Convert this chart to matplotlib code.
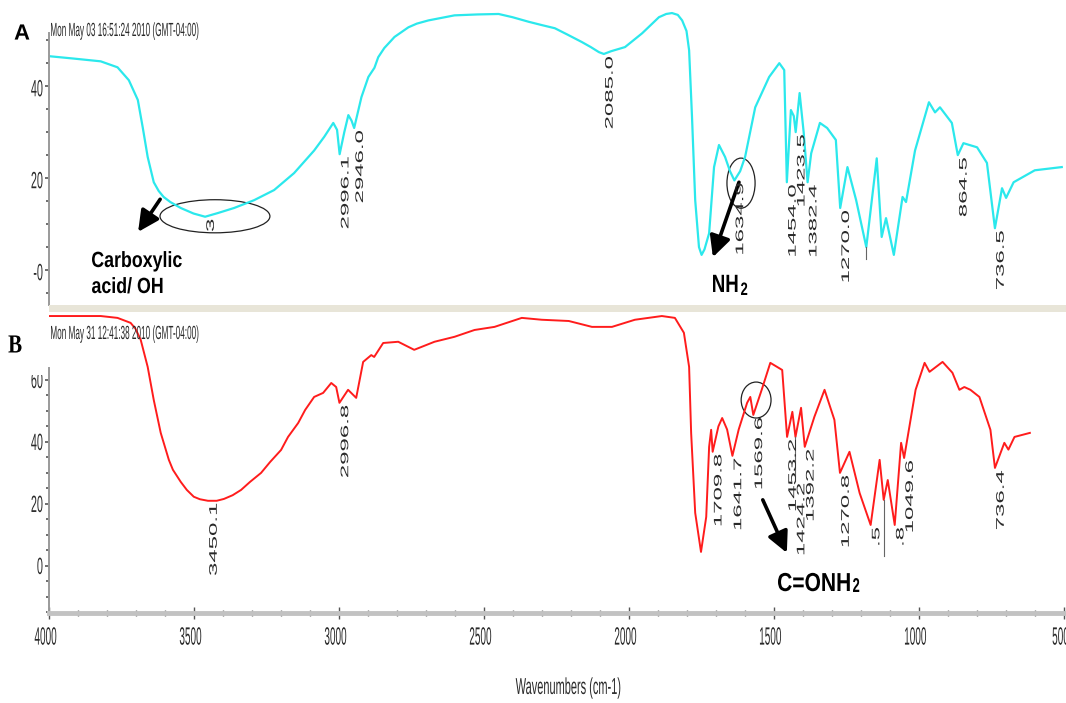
import numpy as np
import matplotlib
matplotlib.use("Agg")
import matplotlib.pyplot as plt
from matplotlib.textpath import TextPath
from matplotlib.patches import PathPatch, Ellipse, Rectangle
from matplotlib.font_manager import FontProperties
from matplotlib.transforms import Affine2D, Bbox

# --- Spectrum A (cyan): wavenumber (cm-1), %T ---
wn_a = [3995, 3913, 3820, 3762, 3723, 3692, 3675, 3658, 3637, 3620,
        3603, 3580, 3544, 3500, 3460, 3416, 3360, 3291, 3222, 3153,
        3084, 3049, 3018, 3005, 2996.1, 2980, 2966, 2955, 2946.0, 2921,
        2897, 2876, 2863, 2842, 2820, 2807, 2759, 2730, 2690, 2600,
        2520, 2448, 2400, 2344, 2300, 2254, 2210, 2161, 2130, 2102,
        2085.0, 2060, 2012, 1953, 1895, 1870, 1850, 1830, 1815, 1800,
        1791, 1781, 1770, 1757, 1748, 1738, 1722, 1705, 1688, 1667,
        1650, 1634.9, 1615, 1598, 1563, 1515, 1480, 1463, 1454.0, 1440,
        1430, 1423.5, 1410, 1396, 1382.4, 1370, 1340, 1315, 1285, 1270.0,
        1245, 1215, 1180, 1144, 1127, 1112, 1085, 1055, 1043, 1012,
        964, 943, 926, 885, 864.5, 845, 798, 764, 736.5, 712,
        698, 672, 599, 506]
t_a = [46.5, 46.0, 45.4, 44.1, 41.3, 37.0, 31.0, 24.6, 19.1, 17.2,
       15.9, 14.8, 13.5, 12.3, 11.6, 12.4, 13.5, 15.2, 17.4, 21.1,
       26.0, 29.0, 32.0, 30.5, 25.2, 30.0, 33.7, 32.5, 30.9, 37.6,
       42.0, 44.0, 46.3, 48.3, 49.8, 50.7, 52.8, 53.6, 54.3, 55.4,
       55.6, 55.7, 55.0, 54.0, 53.3, 52.6, 51.2, 49.6, 48.5, 47.4,
       47.0, 47.6, 48.5, 51.5, 55.0, 55.7, 55.9, 55.5, 54.3, 52.0,
       47.8, 33.3, 15.2, 5.0, 3.3, 4.5, 8.0, 22.4, 27.2, 24.6,
       21.5, 19.5, 21.5, 24.6, 35.4, 42.0, 45.0, 43.5, 19.1, 34.8,
       33.5, 30.0, 38.5, 30.0, 19.1, 25.4, 32.0, 30.9, 28.3, 13.5,
       22.4, 15.2, 5.0, 24.3, 7.2, 11.3, 3.3, 15.9, 14.8, 26.0,
       36.5, 34.3, 35.4, 32.0, 25.0, 27.6, 26.7, 23.3, 9.1, 17.8,
       15.7, 19.1, 21.7, 22.4]

# --- Spectrum B (red) ---
wn_b = [3995, 3820, 3762, 3717, 3700, 3682, 3658, 3637, 3613, 3585,
        3571, 3544, 3523, 3499, 3478, 3450.1, 3420, 3395, 3365, 3336,
        3305, 3267, 3236, 3198, 3174, 3139, 3115, 3084, 3053, 3025,
        3008, 2996.8, 2967, 2939, 2915, 2887, 2877, 2846, 2794, 2739,
        2669, 2600, 2531, 2462, 2368, 2299, 2206, 2126, 2057, 1978,
        1885, 1840, 1809, 1791, 1784, 1770, 1750, 1732, 1722, 1715,
        1709.8, 1690, 1677, 1660, 1641.7, 1620, 1591, 1580, 1569.6, 1540,
        1511, 1470, 1453.2, 1435, 1424.2, 1405, 1392.2, 1359, 1324, 1290,
        1270.8, 1238, 1203, 1165, 1134, 1120, 1106, 1082, 1060, 1049.6,
        1010, 979, 962, 917, 883, 859, 842, 821, 790, 752,
        736.4, 704, 690, 669, 616]
t_b = [80.6, 80.6, 80.0, 78.4, 76.5, 72.9, 64.2, 53.5, 42.9, 34.2,
       31.0, 27.1, 24.5, 22.3, 21.5, 21.0, 21.0, 21.6, 22.8, 24.5,
       27.1, 30.0, 33.5, 37.4, 41.6, 46.1, 50.3, 54.5, 55.8, 59.0,
       57.7, 52.6, 56.8, 54.2, 65.8, 68.0, 67.4, 71.9, 72.3, 69.7,
       72.3, 73.9, 76.1, 77.1, 80.0, 79.4, 79.0, 77.1, 77.1, 79.4,
       80.6, 80.0, 75.2, 64.2, 42.9, 17.1, 4.5, 15.8, 38.4, 43.9,
       36.8, 45.0, 47.7, 44.0, 35.5, 44.0, 52.6, 54.5, 48.7, 57.0,
       65.5, 63.2, 41.6, 49.7, 41.6, 51.0, 38.4, 48.1, 56.8, 47.1,
       30.0, 36.8, 23.5, 13.2, 34.2, 21.3, 27.7, 13.2, 39.7, 34.8,
       56.8, 65.5, 62.6, 65.8, 62.3, 56.8, 57.7, 56.8, 54.5, 43.9,
       31.6, 39.7, 37.5, 41.6, 42.9]

# peak labels (position, text); drop = extra leader length in px
peaks_a = [3460, 2996.1, 2946.0, 2085.0, 1634.9, 1454.0, 1423.5, 1382.4,
           1270.0, 1180, 864.5, 736.5]
peak_text_a = ["3", "2996.1", "2946.0", "2085.0", "1634.9", "1454.0",
               "1423.5", "1382.4", "1270.0", "", "864.5", "736.5"]
drop_a = {1180: 12}

peaks_b = [3450.1, 2996.8, 1709.8, 1641.7, 1569.6, 1453.2, 1424.2, 1392.2,
           1270.8, 1165, 1120, 1082, 1049.6, 736.4]
peak_text_b = ["3450.1", "2996.8", "1709.8", "1641.7", "1569.6", "1453.2",
               "1424.2", "1392.2", "1270.8", ".5", "", ".8", "1049.6", "736.4"]
drop_b = {1424.2: 44, 1120: 56}

ytick_a = [0, 20, 40]
ytick_a_lbl = ["-0", "20", "40"]
ytick_b = [0, 20, 40, 60]
ytick_b_lbl = ["0", "20", "40", "60"]
xtick = [4000, 3500, 3000, 2500, 2000, 1500, 1000, 500]
xtick_lbl = ["4000", "3500", "3000", "2500", "2000", "1500", "1000", "500"]

stamp_a = "Mon May 03 16:51:24 2010 (GMT-04:00)"
stamp_b = "Mon May 31 12:41:38 2010 (GMT-04:00)"

W, H = 1066, 703
CYAN = "#2BE8EC"
RED = "#FF1C1C"
INK = "#2a2a2a"

fig = plt.figure(figsize=(W / 100, H / 100), dpi=100)
fig.patch.set_facecolor("white")


def stretched(x, y, s, sx, sy, rot=0, ha="center", va="center",
              family="Liberation Sans", weight="normal", color=INK, clip=None):
    # text as a path, scaled separately along x and y (display pixels)
    path = TextPath((0, 0), s, size=1, prop=FontProperties(family=family, weight=weight))
    x0, y0, x1, y1 = path.get_extents().extents
    dx = {"left": -x0, "center": -(x0 + x1) / 2, "right": -x1}[ha]
    dy = {"bottom": -y0, "center": -(y0 + y1) / 2, "top": -y1, "baseline": 0}[va]
    tr = Affine2D().translate(dx, dy).scale(sx, sy).rotate_deg(rot).translate(x, y)
    p = PathPatch(path, transform=tr, facecolor=color, edgecolor="none", lw=0)
    if clip is not None:
        p.set_clip_box(clip)
    fig.add_artist(p)


def top(y):
    return H - y


# panel axes, placed in pixels
ax_a = fig.add_axes([48.5 / W, 1 - 305 / H, 1015 / W, 297 / H])
ax_a.set_xlim(4000, 500)
ax_a.set_ylim(-7.6, 57)
ax_b = fig.add_axes([48.5 / W, 1 - 613 / H, 1015 / W, 301 / H])
ax_b.set_xlim(4000, 500)
ax_b.set_ylim(-15.2, 81.9)

for ax in (ax_a, ax_b):
    ax.patch.set_alpha(0)
    for s in ("top", "right"):
        ax.spines[s].set_visible(False)
    ax.spines["left"].set_color("#9a9a9a")
    ax.spines["left"].set_linewidth(1.4)
    ax.tick_params(axis="y", which="major", direction="out", length=3,
                   width=1.2, color="#555555", labelleft=False)
    ax.tick_params(axis="y", which="minor", direction="out", length=2,
                   width=1.2, color="#555555")

ax_a.spines["bottom"].set_visible(False)
ax_a.spines["left"].set_bounds(-7.6, 51.5)
ax_a.set_xticks([])
ax_a.set_yticks(ytick_a)
ax_a.set_yticks(np.arange(-5, 51, 5), minor=True)

ax_b.spines["left"].set_bounds(-15.2, 63.9)
ax_b.spines["bottom"].set_color("#c2c2c2")
ax_b.spines["bottom"].set_linewidth(3.5)
ax_b.set_yticks(ytick_b)
ax_b.set_yticks(np.arange(-15, 61, 5), minor=True)
ax_b.set_xticks(xtick)
ax_b.set_xticks(np.arange(500, 4001, 100), minor=True)
ax_b.tick_params(axis="x", which="major", direction="inout", length=8,
                 width=1, color="#555555", labelbottom=False)
ax_b.tick_params(axis="x", which="minor", direction="inout", length=5,
                 width=1, color="#666666")

# spectra
ax_a.plot(wn_a, t_a, color=CYAN, lw=1.6, solid_joinstyle="round")
ax_b.plot(wn_b, t_b, color=RED, lw=1.4, solid_joinstyle="round")

# separator strip between the two panels
fig.add_artist(Rectangle((48.5 / W, 1 - 312 / H), 1 - 48.5 / W, 7 / H,
                         transform=fig.transFigure, facecolor="#E8E5D8",
                         edgecolor="none"))


def peak_labels(ax, wn, tt, peaks, texts, drops):
    for w, s in zip(peaks, texts):
        t = np.interp(w, wn[::-1], tt[::-1])
        x, y = ax.transData.transform((w, t))
        d = drops.get(w, 0)
        if d:
            ax.plot([w, w], [t, ax.transData.inverted().transform((x, y - d))[1]],
                    color="#666666", lw=0.8)
        if s:
            stretched(x + 5, y - 3 - d, s, 24, 11, rot=90, ha="right", va="center")


peak_labels(ax_a, wn_a, t_a, peaks_a, peak_text_a, drop_a)
peak_labels(ax_b, wn_b, t_b, peaks_b, peak_text_b, drop_b)

# axis tick labels
for v, s in zip(ytick_a, ytick_a_lbl):
    x, y = ax_a.transData.transform((4000, v))
    stretched(x - 6, y - 2, s, 10.8, 23.5, ha="right")
clip60 = Bbox.from_extents(0, 0, W, top(375))
for v, s in zip(ytick_b, ytick_b_lbl):
    x, y = ax_b.transData.transform((4000, v))
    stretched(x - 6, y, s, 10.8, 23.5, ha="right", clip=clip60)
for v, s in zip(xtick, xtick_lbl):
    x, _ = ax_b.transData.transform((v, 0))
    stretched(x - 3, top(636), s, 10, 25)
stretched(568, top(688), "Wavenumbers (cm-1)", 11, 23)

# time stamps and panel letters
stretched(51, top(36), stamp_a, 8.2, 19, ha="left", va="baseline")
stretched(51, top(339), stamp_b, 8.2, 19, ha="left", va="baseline")
stretched(22, top(32), "A", 22, 22, weight="bold", color="black")
stretched(15, top(344), "B", 21, 26, family="Liberation Serif", weight="bold",
          color="black")

# annotations
arrow = dict(arrowstyle="-|>,head_length=0.7,head_width=0.35", lw=2.6,
             color="black", mutation_scale=18, shrinkA=0, shrinkB=0)
ax_a.add_patch(Ellipse((3426, 11.7), 379, 7.2, fill=False, lw=0.9, ec="#222222"))
ax_a.annotate("", xy=(3691, 8.3), xytext=(3615, 15.4), arrowprops=arrow)
ax_a.add_patch(Ellipse((1612, 18.9), 97, 10.9, fill=False, lw=0.9, ec="#222222"))
ax_a.annotate("", xy=(1709, 2.8), xytext=(1619, 19.1), arrowprops=arrow)
ax_b.add_patch(Ellipse((1560, 53.5), 103, 11.6, fill=False, lw=0.9, ec="#222222"))
ax_b.annotate("", xy=(1454, 4.2), xytext=(1537, 21.3), arrowprops=arrow)

stretched(92, top(267), "Carboxylic", 17.8, 22, ha="left", va="baseline",
          weight="bold", color="black")
stretched(92, top(293), "acid/ OH", 17.8, 22, ha="left", va="baseline",
          weight="bold", color="black")
stretched(713, top(292), "NH", 18.7, 25, ha="left", va="baseline",
          weight="bold", color="black")
stretched(741, top(295), "2", 13, 18, ha="left", va="baseline",
          weight="bold", color="black")
stretched(778, top(591), "C=ONH", 21, 26, ha="left", va="baseline",
          weight="bold", color="black")
stretched(853, top(592), "2", 13, 20, ha="left", va="baseline",
          weight="bold", color="black")

fig.savefig("out.png", dpi=100)
